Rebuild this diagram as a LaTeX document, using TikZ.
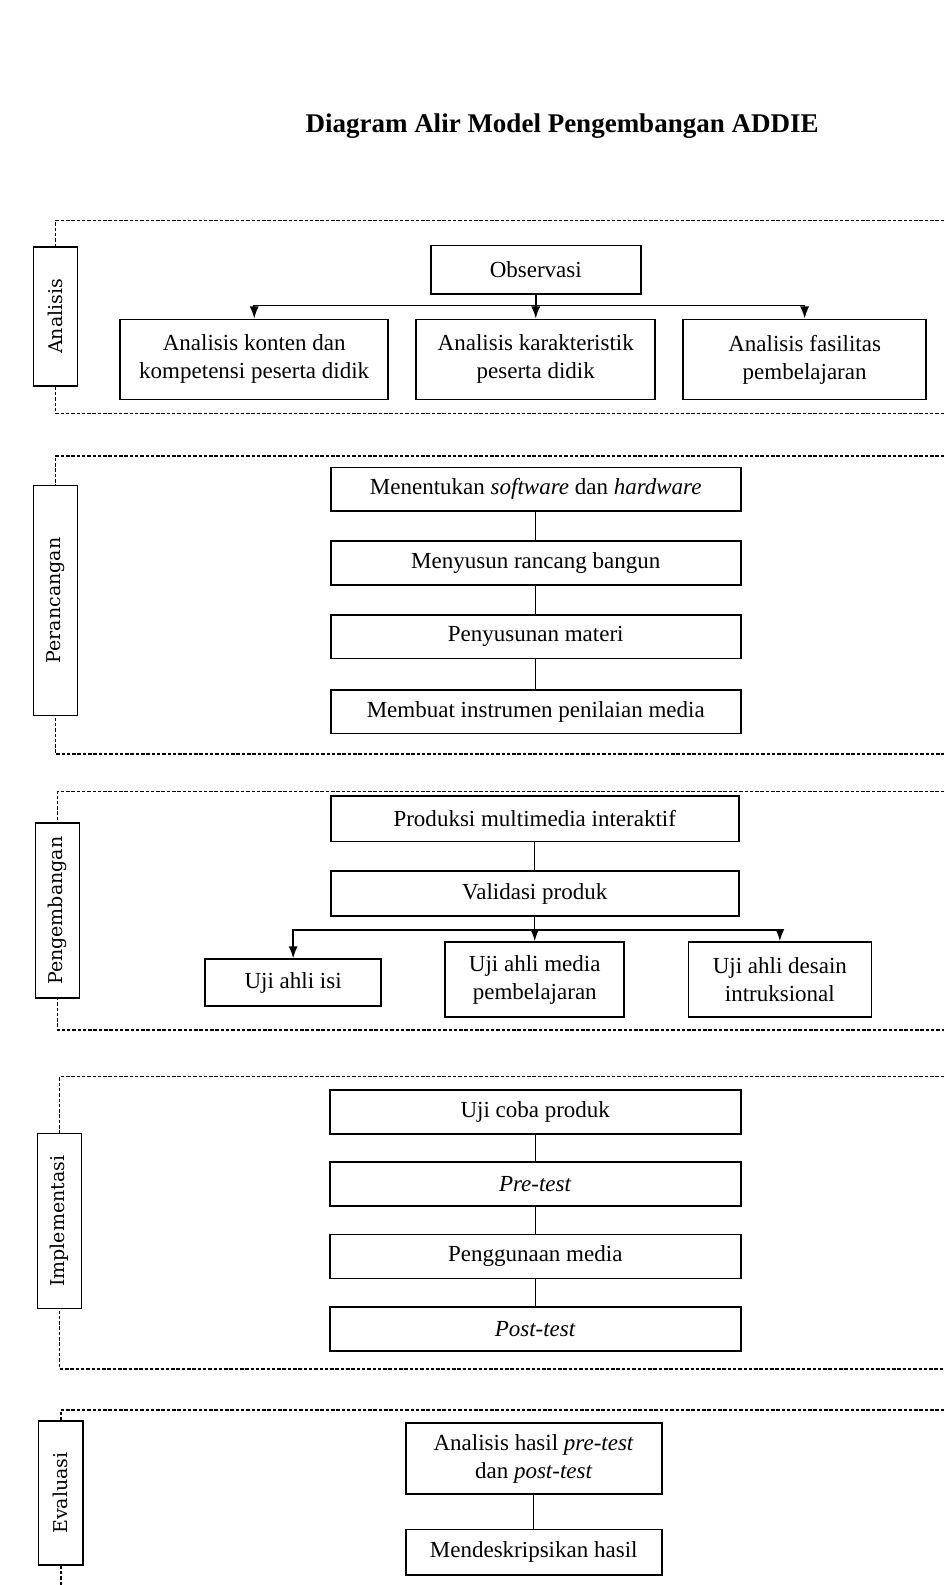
\documentclass[tikz,border=0pt]{standalone}
\usepackage{fontspec}
\setmainfont{Liberation Serif}
\newfontfamily\labfont{DejaVu Serif}
\usetikzlibrary{arrows.meta}
\begin{document}
\begin{tikzpicture}[x=1.0107pt,y=-1.0107pt,
  box/.style={draw,line width=1.7pt,fill=white,align=center,inner sep=0pt,
    font=\fontsize{23}{28}\selectfont},
  lab/.style={draw,line width=1.7pt,fill=white,rotate=90,inner sep=0pt,
    minimum height=44pt,font=\labfont\fontsize{19}{22}\selectfont},
  sect/.style={line width=1.7pt,dash pattern=on 3.5pt off 1.8pt},
  conn/.style={line width=1.3pt},
  arr/.style={line width=1.5pt,-{Latex[length=12pt,width=9pt]}},
  ttl/.style={font=\bfseries\fontsize{27}{32}\selectfont}
]
\useasboundingbox (0,0) rectangle (934,1568);

% title
\node[ttl] (title) at (556,125) {Diagram Alir Model Pengembangan ADDIE};

% ---------------- Analisis ----------------
\draw[sect] (934,218) -- (55,218) -- (55,409) -- (934,409);
\node[lab,minimum width=139pt] (labA) at (55,313) {Analisis};
\node[box,minimum width=210pt,minimum height=48.5pt] (obs) at (530,267) {Observasi};
\node[box,minimum width=268pt,minimum height=80pt] (a1) at (251.5,355.5)
  {Analisis konten dan\\kompetensi peserta didik};
\node[box,minimum width=239pt,minimum height=80pt] (a2) at (530,355.5)
  {Analisis karakteristik\\peserta didik};
\node[box,minimum width=243pt,minimum height=80pt] (a3) at (796,355.5)
  {Analisis fasilitas\\pembelajaran};
\coordinate (jA) at (530,302);
\draw[arr] (obs.south) -- (a2.north);
\draw[arr] (jA) -| (a1.north);
\draw[arr] (jA) -| (a3.north);

% ---------------- Perancangan ----------------
\draw[sect] (934,451) -- (55,451) -- (55,746) -- (934,746);
\node[lab,minimum width=230pt] (labP) at (55,594) {Perancangan};
\begin{scope}[every node/.style={box,minimum width=410pt,minimum height=43.5pt}]
\node (r1) at (530,484) {Menentukan \textit{software} dan \textit{hardware}};
\node (r2) at (530,557) {Menyusun rancang bangun};
\node (r3) at (530,630) {Penyusunan materi};
\node (r4) at (530,704) {Membuat instrumen penilaian media};
\end{scope}
\draw[conn] (r1) -- (r2);
\draw[conn] (r2) -- (r3);
\draw[conn] (r3) -- (r4);

% ---------------- Pengembangan ----------------
\draw[sect] (934,783) -- (57,783) -- (57,1019) -- (934,1019);
\node[lab,minimum width=175pt] (labD) at (57,901) {Pengembangan};
\node[box,minimum width=408pt,minimum height=45.5pt] (p1) at (529,810) {Produksi multimedia interaktif};
\node[box,minimum width=408pt,minimum height=45.5pt] (p2) at (529,884) {Validasi produk};
\node[box,minimum width=176pt,minimum height=46.5pt] (u1) at (290,972) {Uji ahli isi};
\node[box,minimum width=179pt,minimum height=75pt] (u2) at (529,969) {Uji ahli media\\pembelajaran};
\node[box,minimum width=183pt,minimum height=75pt] (u3) at (771.5,969) {Uji ahli desain\\intruksional};
\draw[conn] (p1) -- (p2);
\coordinate (jD) at (529,920);
\draw[arr] (p2.south) -- (u2.north);
\draw[arr] (jD) -| (u1.north);
\draw[arr] (jD) -| (u3.north);

% ---------------- Implementasi ----------------
\draw[sect] (934,1065) -- (59,1065) -- (59,1354) -- (934,1354);
\node[lab,minimum width=175pt] (labI) at (59,1208) {Implementasi};
\begin{scope}[every node/.style={box,minimum width=411pt,minimum height=44pt}]
\node (i1) at (529.5,1100) {Uji coba produk};
\node (i2) at (529.5,1171) {\textit{Pre-test}};
\node (i3) at (529.5,1243) {Penggunaan media};
\node (i4) at (529.5,1315) {\textit{Post-test}};
\end{scope}
\draw[conn] (i1) -- (i2);
\draw[conn] (i2) -- (i3);
\draw[conn] (i3) -- (i4);

% ---------------- Evaluasi ----------------
\coordinate (eEnd) at (60,1568);
\draw[sect] (934,1395) -- (60,1395) -- (eEnd);
\node[lab,minimum width=144pt] (labE) at (60,1477) {Evaluasi};
\node[box,minimum width=256pt,minimum height=71pt] (e1) at (528,1443)
  {Analisis hasil \textit{pre-test}\\dan \textit{post-test}};
\node[box,minimum width=256pt,minimum height=45.5pt] (e2) at (528,1535.5) {Mendeskripsikan hasil};
\draw[conn] (e1) -- (e2);
\end{tikzpicture}
\end{document}
